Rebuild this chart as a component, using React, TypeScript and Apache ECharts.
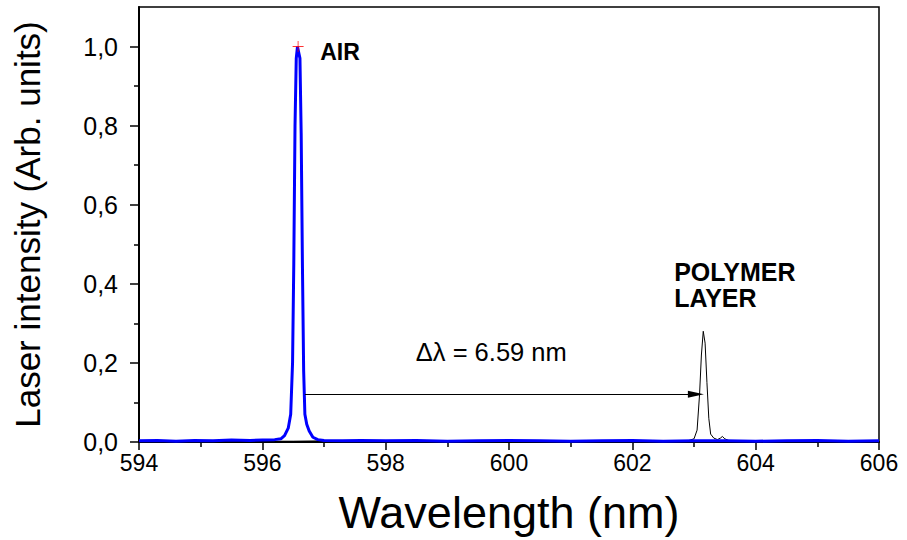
import React, { useEffect, useRef } from "react";
import * as echarts from "echarts";

// Blue trace: laser emission in air
const airWavelength = [594.0, 594.3, 594.6, 594.9, 595.2, 595.5, 595.8, 596.0, 596.2, 596.3, 596.36, 596.42, 596.46, 596.49, 596.51, 596.53, 596.55, 596.57, 596.59, 596.61, 596.63, 596.65, 596.67, 596.69, 596.72, 596.76, 596.82, 596.9, 597.0, 597.3, 597.6, 598.0, 598.5, 599.0, 599.5, 600.0, 600.5, 601.0, 601.5, 602.0, 602.5, 603.0, 603.5, 604.0, 604.5, 605.0, 605.5, 606.0];
const airIntensity = [0.003, 0.004, 0.002, 0.004, 0.003, 0.005, 0.004, 0.005, 0.006, 0.008, 0.016, 0.035, 0.07, 0.2, 0.45, 0.8, 0.97, 1.0, 0.985, 0.97, 0.78, 0.45, 0.18, 0.07, 0.045, 0.028, 0.012, 0.006, 0.004, 0.003, 0.004, 0.003, 0.004, 0.002, 0.003, 0.004, 0.003, 0.002, 0.003, 0.004, 0.002, 0.003, 0.003, 0.002, 0.003, 0.004, 0.002, 0.003];

// Black trace: laser emission with polymer layer
const polymerWavelength = [594.0, 594.5, 595.0, 595.5, 596.0, 596.5, 597.0, 597.5, 598.0, 598.5, 599.0, 599.5, 600.0, 600.5, 601.0, 601.5, 602.0, 602.5, 602.9, 603.0, 603.05, 603.09, 603.12, 603.15, 603.18, 603.21, 603.24, 603.27, 603.32, 603.38, 603.43, 603.46, 603.5, 603.56, 603.7, 604.0, 604.5, 605.0, 605.5, 606.0];
const polymerIntensity = [0.002, 0.003, 0.001, 0.003, 0.002, 0.002, 0.003, 0.001, 0.002, 0.003, 0.002, 0.001, 0.003, 0.002, 0.002, 0.003, 0.002, 0.003, 0.003, 0.008, 0.03, 0.12, 0.22, 0.28, 0.25, 0.15, 0.06, 0.02, 0.01, 0.006, 0.01, 0.014, 0.008, 0.004, 0.003, 0.002, 0.003, 0.002, 0.003, 0.002];

const airPeak = [596.58, 1.0];
const arrowStart = [596.69, 0.121];
const arrowEnd = [603.03, 0.121];

const yMajorTicks = [0, 0.2, 0.4, 0.6, 0.8, 1.0];
const yMinorTicks = [0.1, 0.3, 0.5, 0.7, 0.9];

const annotations = [
  { text: "AIR", at: [596.93, 0.985], bold: true, size: 23 },
  { text: "POLYMER\nLAYER", at: [602.67, 0.398], bold: true, size: 25 },
  { text: "\u0394\u03bb = 6.59 nm", at: [598.48, 0.227], bold: false, size: 25.5 },
];

const FONT = "'Liberation Sans', Arial, sans-serif";

export default function App() {
  const ref = useRef<HTMLDivElement>(null);
  useEffect(() => {
    if (!ref.current) return;
    const chart = echarts.init(ref.current, undefined, { renderer: "svg" });
    const fmt = (v: number) => v.toFixed(1).replace(".", ",");
    chart.setOption({
      animation: false,
      backgroundColor: "#fff",
      grid: {
        left: 139,
        right: 28,
        top: 7,
        bottom: 96,
        show: true,
        borderColor: "#000",
        borderWidth: 1.5,
        backgroundColor: "transparent",
      },
      xAxis: {
        type: "value",
        min: 594,
        max: 606,
        interval: 2,
        name: "Wavelength (nm)",
        nameLocation: "middle",
        nameGap: 48,
        nameTextStyle: { fontFamily: FONT, fontSize: 45, color: "#000" },
        axisLine: { show: true, onZero: false, lineStyle: { color: "#000", width: 2 } },
        axisTick: { show: true, inside: false, length: 8, lineStyle: { color: "#000", width: 1.5 } },
        minorTick: { show: true, splitNumber: 2, length: 5, lineStyle: { color: "#000", width: 1.5 } },
        splitLine: { show: false },
        axisLabel: { fontFamily: FONT, fontSize: 23, color: "#000", margin: 9 },
      },
      yAxis: [
        {
          type: "value",
          min: 0,
          max: 1.1,
          name: "Laser intensity (Arb. units)",
          nameLocation: "middle",
          nameGap: 94,
          nameTextStyle: { fontFamily: FONT, fontSize: 35, color: "#000" },
          axisLine: { show: true, onZero: false, lineStyle: { color: "#000", width: 2 } },
          axisTick: { show: true, length: 9, customValues: yMajorTicks, lineStyle: { color: "#000", width: 1.5 } },
          splitLine: { show: false },
          axisLabel: {
            customValues: yMajorTicks,
            formatter: (v: number) => fmt(v),
            fontFamily: FONT,
            fontSize: 25,
            color: "#000",
            margin: 21,
          },
        },
        {
          type: "value",
          min: 0,
          max: 1.1,
          position: "left",
          axisLine: { show: false },
          axisTick: { show: true, length: 5, customValues: yMinorTicks, lineStyle: { color: "#000", width: 1.5 } },
          axisLabel: { show: false },
          splitLine: { show: false },
        },
      ],
      series: [
        {
          name: "Polymer layer",
          type: "line",
          data: polymerWavelength.map((w, i) => [w, polymerIntensity[i]]),
          showSymbol: false,
          lineStyle: { color: "#000", width: 1 },
          z: 2,
        },
        {
          name: "Air",
          type: "line",
          data: airWavelength.map((w, i) => [w, airIntensity[i]]),
          showSymbol: false,
          lineStyle: { color: "#0000ff", width: 3 },
          z: 3,
        },
        {
          name: "Peak",
          type: "scatter",
          data: [airPeak],
          symbol: "path://M4.6,0H5.4V10H4.6ZM0,4.6H10V5.4H0Z",
          symbolSize: 11,
          itemStyle: { color: "#ff0000" },
          z: 4,
        },
        {
          name: "Annotations",
          type: "scatter",
          symbolSize: 1,
          itemStyle: { color: "transparent" },
          silent: true,
          data: annotations.map((a) => ({
            value: a.at,
            label: {
              show: true,
              position: "right",
              distance: 0,
              formatter: a.text,
              fontFamily: FONT,
              fontWeight: a.bold ? "bold" : "normal",
              fontSize: a.size,
              lineHeight: 26,
              color: "#000000",
              opacity: 1,
              textBorderWidth: 0,
            },
          })),
          markLine: {
            silent: true,
            symbol: ["none", "triangle"],
            symbolSize: [7, 16],
            label: { show: false },
            lineStyle: { color: "#000", width: 1, type: "solid" },
            data: [[{ coord: arrowStart }, { coord: arrowEnd }]],
          },
          z: 5,
        },
      ],
    });
    return () => chart.dispose();
  }, []);
  return (
    <div
      ref={ref}
      style={{ position: "fixed", left: 0, top: 0, width: 907, height: 540, background: "#fff" }}
    />
  );
}
